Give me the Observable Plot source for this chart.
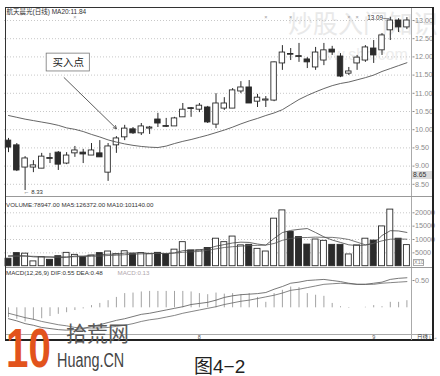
<!DOCTYPE html>
<html><head><meta charset="utf-8">
<script src="https://cdn.jsdelivr.net/npm/d3@7"></script>
<script src="https://cdn.jsdelivr.net/npm/@observablehq/plot@0.6"></script>
<style>
html,body{margin:0;padding:0;background:#fff;}
#wrap{position:relative;width:440px;height:376px;overflow:hidden;font-family:"Liberation Sans",Arial,"Noto Sans CJK SC",sans-serif;}
.a{position:absolute;line-height:1;white-space:nowrap;}
.l{position:absolute;}
</style></head><body><div id="wrap"></div>
<script>
const stockName = "航天晨光";
const titleText = stockName + "(日线) MA20:11.84";
const volumeText = "VOLUME:78947.00 MA5:126372.00 MA10:101140.00";
const macdText = "MACD(12,26,9) DIF:0.55 DEA:0.48";
const macdValText = "MACD:0.13";

const open  = [9.70,9.57,8.96,8.96,8.93,9.22,9.37,9.07,9.35,9.37,9.29,9.35,8.82,9.57,9.79,10.01,9.90,10.03,10.28,10.10,10.09,10.34,10.59,10.55,10.61,10.14,10.58,10.58,11.05,11.16,10.77,10.80,10.80,11.82,12.08,12.02,11.93,11.71,11.90,12.20,12.01,11.54,11.82,11.90,12.23,12.18,12.73,13.00,12.81];
const high  = [9.76,9.62,9.26,9.15,9.35,9.35,9.40,9.37,9.54,9.46,9.62,9.70,9.62,9.81,10.12,10.06,10.17,10.09,10.45,10.31,10.34,10.72,10.61,10.72,10.64,10.99,10.88,11.13,11.32,11.35,10.97,10.91,11.86,12.31,12.23,12.37,11.98,12.26,12.37,12.29,12.09,11.71,12.04,12.31,12.45,12.64,13.09,13.05,13.08];
const low   = [9.37,8.85,8.33,8.82,8.93,9.07,8.88,9.04,9.24,9.07,9.29,9.24,8.58,9.35,9.70,9.87,9.84,9.87,10.06,10.06,10.09,10.34,10.34,10.47,10.17,10.03,10.53,10.58,10.99,10.72,10.61,10.61,10.77,11.63,11.90,11.85,11.68,11.63,11.76,12.04,11.43,11.49,11.63,11.85,11.82,12.04,12.45,12.67,12.75];
const close = [9.51,8.88,9.21,9.02,9.26,9.20,9.04,9.29,9.43,9.32,9.43,9.24,9.54,9.76,10.03,9.90,10.09,10.06,10.17,10.08,10.31,10.55,10.57,10.66,10.20,10.72,10.72,11.08,11.16,10.72,10.88,10.83,11.85,12.12,12.06,12.00,11.85,12.12,12.18,12.12,11.46,11.60,11.98,12.26,12.04,12.59,13.00,12.81,13.00];
const ma20  = [10.39,10.34,10.29,10.25,10.21,10.17,10.12,10.05,10.01,9.95,9.87,9.80,9.72,9.66,9.61,9.57,9.54,9.52,9.51,9.55,9.62,9.68,9.73,9.79,9.85,9.92,9.99,10.07,10.16,10.24,10.31,10.39,10.46,10.55,10.69,10.83,10.94,11.04,11.13,11.21,11.27,11.31,11.37,11.43,11.50,11.60,11.68,11.76,11.84];

const volume  = [2800,4900,4700,1800,3400,2400,3750,5000,4250,3400,4000,4900,5500,4500,5600,4500,4900,4500,5000,4500,6200,9000,5900,5900,6800,10300,9000,11100,7800,8000,6500,5500,17800,20900,12800,10900,8100,10000,9500,8000,8000,4400,7800,10300,9600,14900,21200,10300,7900];
const volMA5  = [3900,4000,3900,3500,3400,3400,3200,3300,3800,3800,4100,4300,4500,4500,4900,5000,5000,4800,4900,4700,5000,5800,6000,6100,6600,7500,8100,8700,9000,8900,8300,7900,10400,12600,13400,13800,14100,12600,11000,9800,8900,8000,7750,7900,8500,11500,13300,13200,12637];
const volMA10 = [3700,3700,3750,3700,3600,3500,3500,3500,3550,3600,3700,3800,4000,4100,4300,4500,4600,4700,4800,4800,4900,5200,5400,5500,6000,6500,7000,7300,7500,7750,7800,7900,8500,9700,10400,10700,10750,10900,10800,10800,10500,10000,9000,8000,8600,9500,10100,10200,10114];

const dif  = [-0.20,-0.24,-0.29,-0.32,-0.36,-0.38,-0.40,-0.41,-0.40,-0.38,-0.34,-0.31,-0.27,-0.23,-0.20,-0.16,-0.12,-0.10,-0.07,-0.04,-0.01,0.02,0.06,0.08,0.10,0.14,0.19,0.22,0.24,0.25,0.26,0.28,0.34,0.39,0.45,0.47,0.50,0.51,0.52,0.50,0.48,0.45,0.43,0.43,0.45,0.47,0.52,0.54,0.55];
const dea  = [-0.10,-0.14,-0.18,-0.21,-0.25,-0.28,-0.31,-0.33,-0.36,-0.37,-0.37,-0.37,-0.36,-0.34,-0.32,-0.29,-0.25,-0.22,-0.20,-0.17,-0.14,-0.10,-0.07,-0.04,-0.01,0.02,0.06,0.09,0.12,0.14,0.17,0.20,0.23,0.27,0.32,0.34,0.37,0.40,0.43,0.44,0.45,0.44,0.43,0.43,0.43,0.45,0.46,0.47,0.48];
const macd = [-0.18,-0.21,-0.26,-0.23,-0.20,-0.16,-0.12,-0.09,-0.05,-0.02,0.04,0.08,0.13,0.19,0.26,0.27,0.29,0.30,0.30,0.30,0.30,0.30,0.29,0.26,0.24,0.27,0.25,0.26,0.24,0.26,0.19,0.10,0.26,0.32,0.38,0.37,0.26,0.23,0.21,0.08,0.02,-0.01,0.00,0.01,0.04,0.02,0.10,0.10,0.13];

const priceTicks  = [8.5,9,9.5,10,10.5,11,11.5,12,12.5,13];
const volumeTicks = [5000,10000,15000,20000];
const macdTicks   = [0.5];
const monthIndex  = [23,44];
const monthLabel  = ["8","9"];
const markerIndex = [8,31,34,41,42];
const lowIndex = 2, highIndex = 46;
const callout = {index: 13, label: "买入点"};
const lastPrice = 8.65;

const rows = open.map((o,i)=>({i, o, h:high[i], l:low[i], c:close[i], up: close[i] >= open[i],
  ma: ma20[i], v: volume[i], m5: volMA5[i], m10: volMA10[i], dif: dif[i], dea: dea[i], m: macd[i]}));
const upRows = rows.filter(d=>d.up), dnRows = rows.filter(d=>!d.up);

const wrap = document.getElementById("wrap");
function html(tag, cls, style, text){ const e=document.createElement(tag); e.className=cls; e.setAttribute("style",style); if(text!=null) e.textContent=text; wrap.appendChild(e); return e; }

// watermark (behind)
html("div","a","left:288px;top:10px;font-size:25px;font-family:'Noto Sans CJK SC';color:#e9e9e9;","炒股入门知识");
html("div","a","left:310px;top:47px;font-size:16px;color:#ededed;","www.sbc.com");

const X = {domain:[-0.5,48.5], range:[3.85,410.55]};
const common = {width:440, marginLeft:4, marginRight:28.5,
  style:{background:"transparent", overflow:"visible", fontFamily:"Liberation Sans, Arial, Noto Sans CJK SC, sans-serif", fontSize:"7px"}};
const ink = "#2b2b2b";
const bw = 0.33;

function place(svg, top){ svg.style.position="absolute"; svg.style.left="0px"; svg.style.top=top+"px"; wrap.appendChild(svg); }

// price panel
place(Plot.plot({...common, height:190, marginTop:0, marginBottom:0,
  x:{...X, axis:null}, y:{domain:[8.5,13], range:[176.8,13], axis:null},
  marks:[
    Plot.gridY(priceTicks, {stroke:"#c8c8c8", strokeOpacity:1, strokeDasharray:"1,2"}),
    Plot.ruleX(rows, {x:"i", y1:"l", y2:"h", stroke:ink, strokeWidth:1}),
    Plot.rect(upRows, {x1:d=>d.i-bw, x2:d=>d.i+bw, y1:"o", y2:"c", fill:"#fff", stroke:ink, strokeWidth:0.9}),
    Plot.rect(dnRows, {x1:d=>d.i-bw, x2:d=>d.i+bw, y1:"o", y2:"c", fill:ink, stroke:ink, strokeWidth:0.9}),
    Plot.line(rows, {x:"i", y:"ma", stroke:"#555", strokeWidth:0.9}),
    Plot.text(markerIndex, {x:d=>d, frameAnchor:"top", dy:8, text:()=>"×", fontSize:5.5, fill:"#999"}),
    Plot.text([lowIndex], {x:d=>d, y:d=>low[d], dy:2, dx:-1.5, textAnchor:"start", text:d=>"← "+low[d].toFixed(2), fontSize:6, fill:"#333"}),
    Plot.text([highIndex], {x:d=>d, y:d=>high[d], dy:1, dx:-1, textAnchor:"end", text:d=>high[d].toFixed(2)+"—", fontSize:6.3, fill:"#333"}),
    Plot.arrow([callout], {x1:d=>d.index-6.3, y1:d=>high[d.index]+1.62, x2:d=>d.index, y2:d=>high[d.index]+0.22, stroke:"#333", strokeWidth:0.8, headLength:6}),
    Plot.rect([callout], {x1:d=>d.index-8.4, x2:d=>d.index-3.2, y1:d=>high[d.index]+1.79, y2:d=>high[d.index]+2.28, fill:"#fff", stroke:"#777", strokeWidth:0.8}),
    Plot.text([callout], {x:d=>d.index-5.8, y:d=>high[d.index]+2.035, text:"label", fontSize:10.5, fill:"#222", fontFamily:"Noto Sans CJK SC"}),
    Plot.text([titleText], {frameAnchor:"top-left", dx:2, dy:1.5, lineAnchor:"top", fontSize:6.5, fill:"#333"}),
    Plot.axisY(priceTicks, {anchor:"right", tickSize:2, tickPadding:1, tickFormat:d=>d.toFixed(2), color:"#8a8a8a", fontSize:7.2})
  ]}), 7);

// volume panel
place(Plot.plot({...common, height:71, marginTop:0, marginBottom:0,
  x:{...X, axis:null}, y:{domain:[0,20000], range:[68.7,15.3], axis:null},
  marks:[
    Plot.gridY(volumeTicks, {stroke:"#c8c8c8", strokeOpacity:1, strokeDasharray:"1,2"}),
    Plot.rect(upRows, {x1:d=>d.i-0.36, x2:d=>d.i+0.36, y1:0, y2:"v", fill:"#fff", stroke:ink, strokeWidth:0.9}),
    Plot.rect(dnRows, {x1:d=>d.i-0.36, x2:d=>d.i+0.36, y1:0, y2:"v", fill:ink, stroke:ink, strokeWidth:0.9}),
    Plot.line(rows, {x:"i", y:"m5", stroke:"#444", strokeWidth:0.8}),
    Plot.line(rows, {x:"i", y:"m10", stroke:"#555", strokeWidth:0.8}),
    Plot.text([volumeText], {frameAnchor:"top-left", dx:1.5, dy:8, lineAnchor:"middle", fontSize:6.2, fill:"#333"}),
    Plot.axisY(volumeTicks, {anchor:"right", tickSize:2, tickPadding:1, tickFormat:d=>String(d), color:"#8a8a8a", fontSize:7.2})
  ]}), 197);

// MACD panel
place(Plot.plot({...common, height:73, marginTop:0, marginBottom:7,
  x:{...X, axis:null}, y:{domain:[-0.5,0.5], range:[66.6,12], axis:null},
  marks:[
    Plot.ruleX(rows, {x:"i", y1:0, y2:"m", stroke:"#8c8c8c", strokeWidth:0.8}),
    Plot.line(rows, {x:"i", y:"dea", stroke:"#666", strokeWidth:0.8}),
    Plot.line(rows, {x:"i", y:"dif", stroke:"#555", strokeWidth:0.8}),
    Plot.text([macdText], {frameAnchor:"top-left", dx:1.5, dy:5, lineAnchor:"middle", fontSize:6.2, fill:"#333"}),
    Plot.text([macdValText], {frameAnchor:"top-left", dx:113, dy:5, lineAnchor:"middle", fontSize:6.2, fill:"#b0a6ab"}),
    Plot.axisY(macdTicks, {anchor:"right", tickSize:2, tickPadding:1, tickFormat:d=>d.toFixed(2), color:"#8a8a8a", fontSize:7.2}),
    Plot.axisX(monthIndex, {anchor:"bottom", tickSize:0, tickPadding:0.5, tickFormat:d=>monthLabel[monthIndex.indexOf(d)], color:"#555", fontSize:5.5})
  ]}), 268);

// frame and separators
html("div","l","left:5px;top:7px;width:429px;height:1px;background:#333;");
html("div","l","left:5px;top:7px;width:1px;height:334px;background:#333;");
html("div","l","left:432px;top:7px;width:2px;height:334px;background:#222;");
html("div","l","left:5px;top:339px;width:429px;height:2px;background:#222;");
html("div","l","left:411px;top:8px;width:1px;height:332px;background:#aaa;");
html("div","l","left:6px;top:196px;width:426px;height:1px;background:#999;");
html("div","l","left:6px;top:267px;width:426px;height:1px;background:#999;");
html("div","l","left:6px;top:333.5px;width:426px;height:1px;background:#aaa;");
// axis boxes
html("div","a","left:412px;top:171px;width:20px;height:7.5px;background:#dcdcdc;font-size:6.8px;color:#333;padding-top:0.5px;padding-left:1px;box-sizing:border-box;", lastPrice.toFixed(2));
html("div","a","left:412.5px;top:258.5px;width:11px;height:7px;border:1px solid #aaa;box-sizing:border-box;font-size:5.5px;color:#888;padding-left:0.5px;padding-top:0.3px;","X10");
html("div","a","left:417px;top:334.5px;font-size:5.5px;color:#333;font-family:'Noto Sans CJK SC';","日线");

// logo and caption
html("div","a","left:6px;top:320px;font-weight:bold;font-size:56px;color:#e2531c;transform:scaleX(0.72);transform-origin:left top;","10");
html("div","a","left:66px;top:322px;font-size:21px;font-family:'Noto Sans CJK SC';color:#5a5a5a;","拾荒网");
html("div","a","left:57px;top:350px;font-size:20px;color:#444;transform:scaleX(0.72);transform-origin:left top;","Huang.CN");
html("div","a","left:194px;top:357px;font-size:19px;color:#222;font-family:'Liberation Sans','Noto Sans CJK SC';","图4−2");
</script></body></html>
